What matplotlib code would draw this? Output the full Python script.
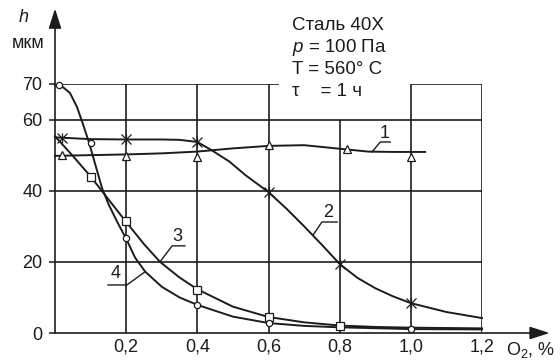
import matplotlib.pyplot as plt

plt.rcParams['font.family'] = ['Liberation Sans', 'DejaVu Sans']
plt.rcParams['mathtext.fontset'] = 'custom'
plt.rcParams['mathtext.rm'] = 'Liberation Sans'
plt.rcParams['mathtext.it'] = 'Liberation Sans:italic'

INK = '#1c1c1c'

# ─── Data: O2 (%) vs h (мкм) ───
# curve 1 (triangles)
m1_x = [0.02, 0.2, 0.4, 0.6, 0.82, 1.0]
m1_y = [50.0, 49.8, 49.5, 52.9, 51.7, 49.5]
l1_x = [0, 0.1, 0.2, 0.3, 0.4, 0.5, 0.6, 0.7, 0.8, 0.88, 0.95, 1.04]
l1_y = [49.8, 50.0, 50.2, 50.5, 51.0, 51.9, 52.6, 52.8, 51.8, 51.0, 50.9, 50.9]

# curve 2 (asterisks)
m2_x = [0.02, 0.2, 0.4, 0.6, 0.8, 1.0]
m2_y = [54.8, 54.4, 53.7, 39.6, 19.4, 8.4]
l2_x = [0, 0.1, 0.2, 0.3, 0.35, 0.4, 0.44, 0.49, 0.535, 0.6, 0.65, 0.7,
        0.75, 0.8, 0.85, 0.9, 0.95, 1.0, 1.1, 1.2]
l2_y = [55.0, 54.5, 54.4, 54.4, 54.3, 53.7, 51.4, 48.2, 44.4, 39.6, 35.0, 30.0,
        24.8, 19.4, 15.5, 12.6, 10.3, 8.4, 5.9, 4.2]

# curve 3 (squares)
m3_x = [0.1, 0.2, 0.4, 0.6, 0.8]
m3_y = [43.9, 31.4, 12.1, 4.4, 2.0]
l3_x = [0, 0.05, 0.1, 0.15, 0.2, 0.25, 0.295, 0.35, 0.4, 0.5, 0.6, 0.7,
        0.8, 0.9, 1.0, 1.1, 1.2]
l3_y = [55.3, 49.8, 44.0, 37.6, 31.2, 25.0, 20.0, 15.6, 12.3, 7.4, 4.5, 3.0,
        2.1, 1.7, 1.5, 1.4, 1.3]

# curve 4 (circles)
m4_x = [0.01, 0.1, 0.2, 0.4, 0.6, 1.0]
m4_y = [69.7, 53.4, 26.7, 7.9, 2.7, 1.1]
l4_x = [0, 0.02, 0.042, 0.062, 0.079, 0.096, 0.112, 0.132, 0.15, 0.175, 0.2,
        0.225, 0.253, 0.3, 0.35, 0.4, 0.5, 0.6, 0.7, 0.8, 1.0, 1.2]
l4_y = [69.8, 69.3, 67.5, 63.5, 58.6, 53.4, 47.8, 40.8, 36.3, 31.2, 26.5,
        21.2, 17.3, 13.0, 10.0, 7.9, 4.6, 2.8, 2.0, 1.6, 1.1, 1.0]

x_ticks = [0.2, 0.4, 0.6, 0.8, 1.0, 1.2]
x_labels = ['0,2', '0,4', '0,6', '0,8', '1,0', '1,2']
y_ticks = [0, 20, 40, 60, 70]

# ─── Figure ───
fig = plt.figure(figsize=(5.6, 3.62), dpi=100)
ax = fig.add_axes([55 / 560, 29 / 362, 427 / 560, 249 / 362])
ax.set_xlim(0, 1.2)
ax.set_ylim(0, 70)
for s in ax.spines.values():
    s.set_visible(False)

# grid (the upper part is cut out under the note)
glw = 1.2
ax.hlines([20, 40, 60], 0, 1.2, color=INK, lw=glw)
ax.hlines(70, 0, 0.63, color=INK, lw=glw)
ax.hlines(70, 1.0, 1.2, color=INK, lw=glw)
ax.vlines([0.2, 0.4, 0.6, 1.0, 1.2], 0, 70, color=INK, lw=glw)
ax.vlines(0.8, 0, 60, color=INK, lw=glw)

# axes with arrows
arrow = dict(arrowstyle='-|>,head_length=1.0,head_width=0.32', color=INK,
             lw=1.2, shrinkA=0, shrinkB=0, mutation_scale=12)
ax.annotate('', xy=(1.39, 0), xytext=(0, 0), arrowprops=arrow,
            annotation_clip=False)
ax.annotate('', xy=(0, 91.2), xytext=(0, 0), arrowprops=arrow,
            annotation_clip=False)

# curves
clw = 1.4
for lx, ly in [(l1_x, l1_y), (l2_x, l2_y), (l3_x, l3_y), (l4_x, l4_y)]:
    ax.plot(lx, ly, color=INK, lw=clw, clip_on=False, zorder=3,
            solid_joinstyle='round')

mk = dict(color=INK, ls='none', clip_on=False, zorder=4, mec=INK, mfc='white',
          mew=0.9)
ax.plot(m1_x, m1_y, marker='^', ms=6, **mk)
ax.plot(m2_x, m2_y, marker='x', ms=6.5, **mk)
ax.plot(m2_x, m2_y, marker='|', ms=7, **mk)
ax.plot(m3_x, m3_y, marker='s', ms=5.8, **mk)
ax.plot(m4_x, m4_y, marker='o', ms=4.5, **mk)

# curve numbers with leader lines
leaders = [
    ('1', [0.891, 0.914, 0.942], [50.9, 53.7, 53.7], (0.926, 56.0)),
    ('2', [0.725, 0.750, 0.793], [27.5, 31.2, 31.2], (0.767, 34.0)),
    ('3', [0.295, 0.329, 0.365], [20.0, 24.5, 24.5], (0.344, 27.1)),
    ('4', [0.253, 0.202, 0.149], [17.2, 13.5, 13.5], (0.169, 16.6)),
]
for txt, lx, ly, (tx, ty) in leaders:
    ax.plot(lx, ly, color=INK, lw=1.0, zorder=3)
    ax.text(tx, ty, txt, fontsize=13, color=INK, ha='center', va='center')

# ticks
ax.set_xticks(x_ticks, x_labels)
ax.set_yticks(y_ticks)
ax.tick_params(axis='x', length=0, pad=4, labelsize=13, colors=INK)
ax.tick_params(axis='y', length=4, width=1.1, pad=5, labelsize=13, colors=INK)

# axis captions
fig.text(24 / 560, 1 - 18 / 362, 'h', style='italic', fontsize=13,
         ha='center', va='center', color=INK)
fig.text(28 / 560, 1 - 43 / 362, 'мкм', fontsize=13, ha='center',
         va='center', color=INK)
fig.text(506 / 560, 1 - 350 / 362, 'O$_2$, %', fontsize=13, ha='left',
         va='center', color=INK)

# conditions note
note = ['Сталь 40Х', '$p$ = 100 Па', 'T = 560° C', 'τ    = 1 ч']
for i, line in enumerate(note):
    fig.text(292 / 560, 1 - (25 + 22.3 * i) / 362, line, fontsize=13.5,
             ha='left', va='center', color=INK)

fig.savefig('out.png', dpi=100, facecolor='white')
